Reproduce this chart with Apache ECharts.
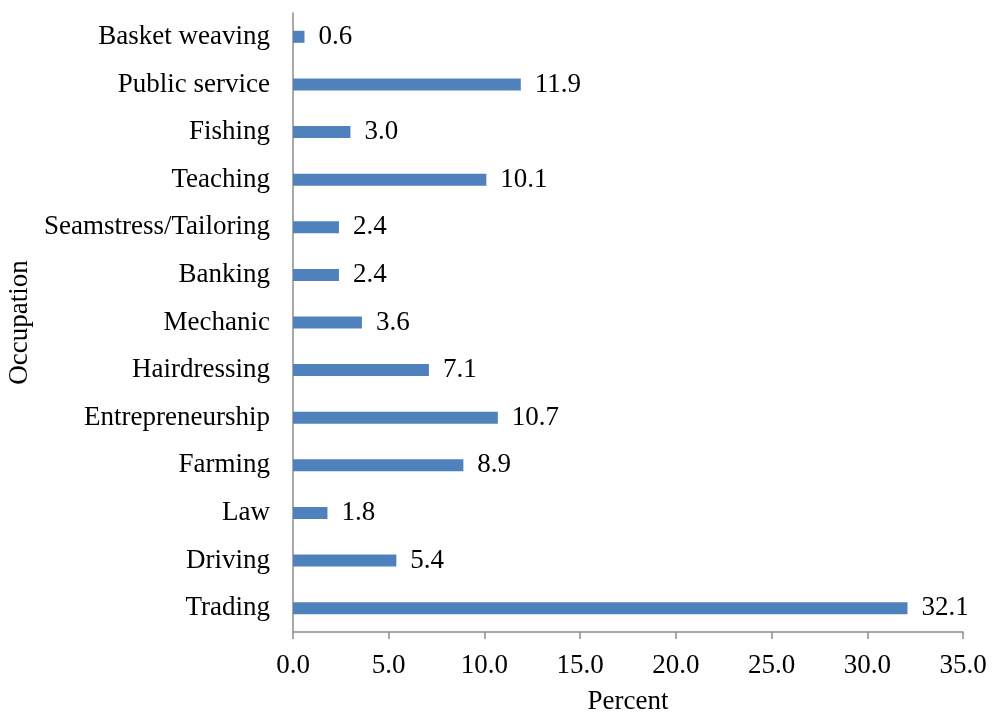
<!DOCTYPE html>
<html><head><meta charset="utf-8">
<script src="https://cdn.jsdelivr.net/npm/echarts@6/dist/echarts.min.js"></script>
<style>html,body{margin:0;padding:0;background:#fff}#c{width:992px;height:715px}</style>
</head><body><div id="c"></div>
<script>
const categories = ["Trading","Driving","Law","Farming","Entrepreneurship","Hairdressing","Mechanic","Banking","Seamstress/Tailoring","Teaching","Fishing","Public service","Basket weaving"];
const values = [32.1,5.4,1.8,8.9,10.7,7.1,3.6,2.4,2.4,10.1,3.0,11.9,0.6];
const xTicks = {min:0,max:35,interval:5};
const font = "'Liberation Serif','Times New Roman',serif";
const fs = 27;
const chart = echarts.init(document.getElementById('c'));
chart.setOption({
  animation:false,
  grid:{left:293,right:29,top:13,bottom:83,containLabel:false,outerBoundsMode:'none'},
  xAxis:{type:'value',min:xTicks.min,max:xTicks.max,interval:xTicks.interval,
    name:'Percent',nameLocation:'middle',nameGap:56,
    nameTextStyle:{fontFamily:font,fontSize:fs,color:'#000'},
    axisLine:{show:true,lineStyle:{color:'#8c8c8c',width:1.5}},
    axisTick:{show:true,length:7,lineStyle:{color:'#8c8c8c',width:1.5}},
    splitLine:{show:false},
    axisLabel:{fontFamily:font,fontSize:fs,color:'#000',margin:20,formatter:v=>v.toFixed(1)}},
  yAxis:{type:'category',data:categories,
    name:'Occupation',nameLocation:'middle',nameGap:258,nameRotate:90,
    nameTextStyle:{fontFamily:font,fontSize:fs,color:'#000'},
    axisLine:{show:true,lineStyle:{color:'#8c8c8c',width:1.5}},
    axisTick:{show:false},
    axisLabel:{fontFamily:font,fontSize:fs,color:'#000',margin:23,padding:[3,0,0,0]}},
  series:[{type:'bar',data:values,barWidth:12,
    itemStyle:{color:'#4F81BD'},
    label:{show:true,position:'right',distance:14,fontFamily:font,fontSize:fs,color:'#000',padding:[4,0,0,0],formatter:p=>p.value.toFixed(1)}}]
});
</script></body></html>
